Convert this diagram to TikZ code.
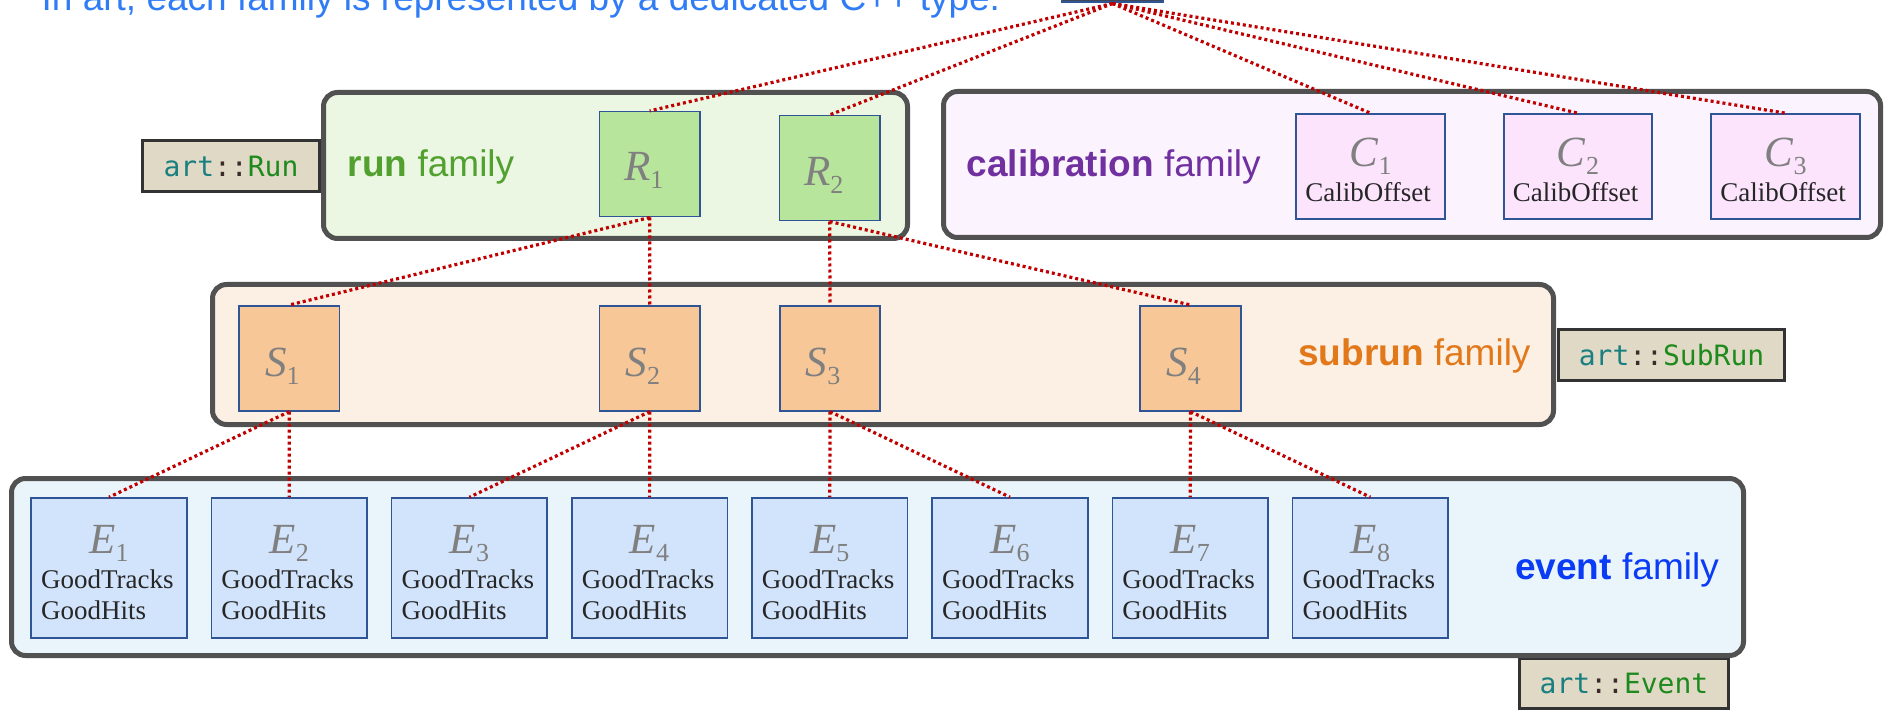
\documentclass[tikz,border=0pt]{standalone}
\usepackage{fontspec}
\setmainfont{Liberation Sans}
\newfontfamily\symfont{Liberation Serif}
\newfontfamily\prodfont{Liberation Serif}
\newfontfamily\codefont{DejaVu Sans Mono}

% palette
\definecolor{famborder}{HTML}{515151}
\definecolor{objborder}{HTML}{2F5597}
\definecolor{runfill}{HTML}{EBF7E3}
\definecolor{runobjfill}{HTML}{B6E59B}
\definecolor{calfill}{HTML}{FBF3FD}
\definecolor{calobjfill}{HTML}{FCE4FC}
\definecolor{subfill}{HTML}{FCEFE3}
\definecolor{subobjfill}{HTML}{F8C797}
\definecolor{evfill}{HTML}{EAF5FB}
\definecolor{evobjfill}{HTML}{D2E4FB}
\definecolor{labfill}{HTML}{E0D9C5}
\definecolor{labborder}{HTML}{333333}
\definecolor{symgray}{HTML}{808080}
\definecolor{prodtext}{HTML}{262626}
\definecolor{linkred}{HTML}{C00000}
\definecolor{captionblue}{HTML}{2F7CF6}
\definecolor{topfill}{HTML}{404858}
\definecolor{runtxt}{HTML}{52A02F}
\definecolor{caltxt}{HTML}{7030A0}
\definecolor{subtxt}{HTML}{E2781A}
\definecolor{evtxt}{HTML}{0A3BF5}
\definecolor{artteal}{HTML}{1A7F80}
\definecolor{artsep}{HTML}{3A2A2A}
\definecolor{artgreen}{HTML}{1E8A1E}

% object symbol such as R_1, with an upright subscript
\newcommand{\objsym}[2]{{\symfont\fontsize{43}{43}\selectfont\textit{#1}\raisebox{-8pt}{\fontsize{26}{26}\selectfont #2}}}
% C++ type name art::X
\newcommand{\arttype}[1]{{\codefont\fontsize{28}{28}\selectfont\textcolor{artteal}{art}\textcolor{artsep}{::}\textcolor{artgreen}{#1}}}

\begin{document}
\begin{tikzpicture}[x=1pt,y=-1pt,
  family/.style={draw=famborder, line width=5pt, rounded corners=14pt, inner sep=0pt},
  objbox/.style={draw=objborder, line width=1.6pt, inner sep=0pt},
  runobj/.style={objbox, fill=runobjfill, minimum width=100.5pt, minimum height=105pt},
  calobj/.style={objbox, fill=calobjfill, minimum width=148.5pt, minimum height=105pt},
  subobj/.style={objbox, fill=subobjfill, minimum width=100.5pt, minimum height=105pt},
  evobj/.style={objbox, fill=evobjfill, minimum width=155.5pt, minimum height=140pt},
  typebox/.style={draw=labborder, line width=3pt, fill=labfill, inner sep=0pt, minimum height=51pt},
  famlabel/.style={anchor=base west, inner sep=0pt, font=\fontsize{37}{37}\selectfont},
  sym/.style={anchor=base, inner sep=0pt, text=symgray},
  prod/.style={inner sep=0pt, font=\prodfont\fontsize{27}{31}\selectfont, text=prodtext},
  link/.style={draw=linkred, line width=3.2pt, dash pattern=on 3pt off 3pt},
]
\useasboundingbox (0,0) rectangle (1885,711);
\clip (0,0) rectangle (1885,711);

% caption and the collection box above the families
\node[anchor=base west, inner sep=0pt, text=captionblue, font=\fontsize{37}{37}\selectfont]
  (caption) at (41.5,11) {In art, each family is represented by a dedicated C++ type.};
\node[draw=objborder, line width=2pt, fill=topfill, minimum width=101pt, minimum height=44pt, inner sep=0pt]
  (top) at (1112.5,-19.5) {};

% C++ type tags
\node[typebox, minimum width=177pt] (tagrun) at (231,166) {\arttype{Run}};
\node[typebox, minimum width=226pt] (tagsub) at (1671.5,355) {\arttype{SubRun}};
\node[typebox, minimum width=209pt, minimum height=50pt] (tagev) at (1624,683.5) {\arttype{Event}};

% family containers
\node[family, fill=runfill, minimum width=584pt, minimum height=146pt] (runfam) at (615.5,165.5) {};
\node[family, fill=calfill, minimum width=937pt, minimum height=146pt] (calfam) at (1412,164.5) {};
\node[family, fill=subfill, minimum width=1341pt, minimum height=140pt] (subfam) at (883,354.5) {};
\node[family, fill=evfill, minimum width=1732pt, minimum height=177pt] (evfam) at (877.5,567) {};

% family titles
\node[famlabel, text=runtxt] (runlbl) at (347.5,176.7) {\textbf{run} family};
\node[famlabel, text=caltxt] (callbl) at (966.5,176.7) {\textbf{calibration} family};
\node[famlabel, text=subtxt] (sublbl) at (1298,366) {\textbf{subrun} family};
\node[famlabel, text=evtxt] (evlbl) at (1515,579) {\textbf{event} family};

% run objects
\node[runobj] (R1) at (649.7,164.2) {};
\node[runobj] (R2) at (829.7,168.2) {};
\node[sym] (R1s) at ([xshift=-6pt,yshift=-16.5pt]R1.center) {\objsym{R}{1}};
\node[sym] (R2s) at ([xshift=-6pt,yshift=-17.5pt]R2.center) {\objsym{R}{2}};

% calibration objects
\foreach \i/\x in {1/1370.5, 2/1578, 3/1785.5} {
  \node[calobj] (C\i) at (\x,166.5) {};
  \node[sym] (C\i s) at (C\i.center) {\objsym{C}{\i}};
  \node[prod, anchor=base] (C\i p) at ([xshift=-2.5pt,yshift=-35pt]C\i.center) {CalibOffset};
}

% subrun objects
\foreach \i/\x in {1/289.3, 2/649.8, 3/830, 4/1190.5} {
  \node[subobj] (S\i) at (\x,358.3) {};
  \node[sym] (S\i s) at ([xshift=-7pt,yshift=-18.4pt]S\i.center) {\objsym{S}{\i}};
}

% event objects
\foreach \i in {1,...,8} {
  \pgfmathsetmacro{\ex}{109+180.2*(\i-1)}
  \node[evobj] (E\i) at (\ex,568) {};
  \node[sym] (E\i s) at ([yshift=15pt]E\i.center) {\objsym{E}{\i}};
  \node[prod, anchor=base west] (E\i t) at ([xshift=10.5pt,yshift=-20pt]E\i.west) {GoodTracks};
  \node[prod, anchor=base west] (E\i h) at ([xshift=10.5pt,yshift=-51pt]E\i.west) {GoodHits};
}

% parent/child links
\foreach \c in {R1,R2,C1,C2,C3} \draw[link] (top.south) -- (\c.north);
\draw[link] (R1.south) -- (S1.north);
\draw[link] (R1.south) -- (S2.north);
\draw[link] (R2.south) -- (S3.north);
\draw[link] (R2.south) -- (S4.north);
\draw[link] (S1.south) -- (E1.north);
\draw[link] (S1.south) -- (E2.north);
\draw[link] (S2.south) -- (E3.north);
\draw[link] (S2.south) -- (E4.north);
\draw[link] (S3.south) -- (E5.north);
\draw[link] (S3.south) -- (E6.north);
\draw[link] (S4.south) -- (E7.north);
\draw[link] (S4.south) -- (E8.north);
\end{tikzpicture}
\end{document}
